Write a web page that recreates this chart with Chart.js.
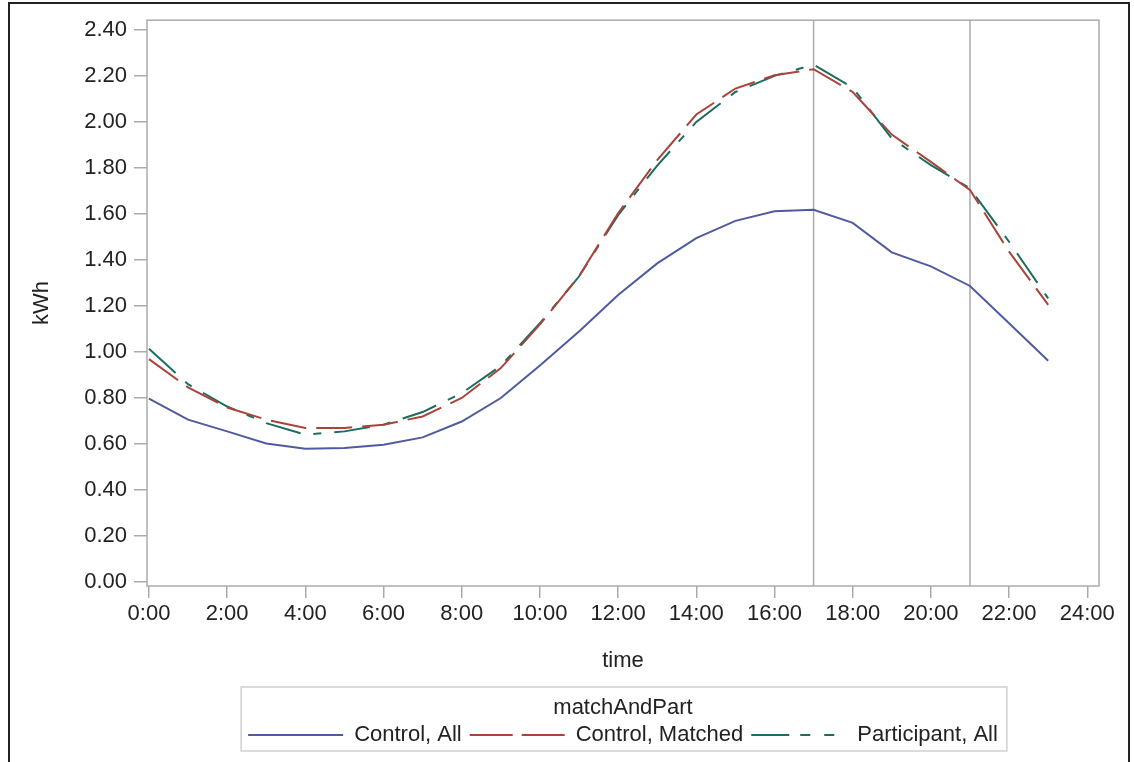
<!DOCTYPE html>
<html>
<head>
<meta charset="utf-8">
<script src="https://cdn.jsdelivr.net/npm/chart.js@4"></script>
<style>
  body { margin: 0; background: #fff; }
  #wrap { position: relative; width: 1134px; height: 762px; }
  #frame { position: absolute; left: 8px; top: 2px; width: 1118px; height: 790px; border: 2px solid #222; border-bottom: none; pointer-events: none; }
</style>
</head>
<body>
<div id="wrap"><canvas id="myChart"></canvas><div id="frame"></div></div>
<script>
var hours = [0, 1, 2, 3, 4, 5, 6, 7, 8, 9, 10, 11, 12, 13, 14, 15, 16, 17, 18, 19, 20, 21, 22, 23];
var controlAll = [0.797, 0.706, 0.655, 0.602, 0.580, 0.583, 0.597, 0.629, 0.698, 0.800, 0.941, 1.089, 1.248, 1.385, 1.495, 1.570, 1.612, 1.618, 1.561, 1.433, 1.372, 1.287, 1.125, 0.962];
var controlMatched = [0.969, 0.846, 0.759, 0.706, 0.670, 0.670, 0.684, 0.720, 0.800, 0.930, 1.120, 1.330, 1.603, 1.834, 2.032, 2.145, 2.203, 2.229, 2.130, 1.945, 1.826, 1.704, 1.436, 1.205];
var participantAll = [1.014, 0.860, 0.763, 0.691, 0.641, 0.655, 0.684, 0.739, 0.821, 0.940, 1.125, 1.328, 1.595, 1.810, 2.000, 2.130, 2.200, 2.249, 2.149, 1.928, 1.812, 1.711, 1.479, 1.233];
var seriesNames = ['Control, All', 'Control, Matched', 'Participant, All'];
var refLines = [17, 21];

function pts(vals) {
  return vals.map(function (v, i) { return { x: hours[i], y: v }; });
}

var fontName = '"Liberation Sans", Arial, sans-serif';
var gray = '#ababab';
// dash patterns used for the legend samples
var legendDashes = [[], [43, 9], [38, 11, 10, 14, 10, 20]];

// reference lines, plot frame and legend box
var framePlugin = {
  id: 'framePlugin',
  beforeDatasetsDraw: function (chart) {
    var ctx = chart.ctx, a = chart.chartArea, xs = chart.scales.x;
    ctx.save();
    ctx.strokeStyle = gray;
    ctx.lineWidth = 1.5;
    refLines.forEach(function (h) {
      var px = xs.getPixelForValue(h);
      ctx.beginPath();
      ctx.moveTo(px, a.top);
      ctx.lineTo(px, a.bottom);
      ctx.stroke();
    });
    ctx.restore();
  },
  afterDraw: function (chart) {
    var ctx = chart.ctx, a = chart.chartArea, lg = chart.legend;
    ctx.save();
    ctx.strokeStyle = gray;
    ctx.lineWidth = 1.5;
    ctx.strokeRect(a.left, a.top, a.right - a.left, a.bottom - a.top);
    var hb = lg.legendHitBoxes;
    if (hb && hb.length) {
      var l = Math.min.apply(null, hb.map(function (b) { return b.left; })) - 7;
      var r = Math.max.apply(null, hb.map(function (b) { return b.left + b.width; })) + 9;
      var b = Math.max.apply(null, hb.map(function (b) { return b.top + b.height; })) + 5;
      ctx.strokeStyle = '#d0d0d0';
      ctx.lineWidth = 1.5;
      ctx.strokeRect(l, lg.top, r - l, b - lg.top);
    }
    ctx.restore();
  }
};

var ctx = document.getElementById('myChart');
var myChart = new Chart(ctx, {
  type: 'line',
  data: {
    datasets: [{
      label: seriesNames[0],
      data: pts(controlAll),
      borderColor: '#4f5ba0',
      borderWidth: 2
    }, {
      label: seriesNames[1],
      data: pts(controlMatched),
      borderColor: '#a8443a',
      borderWidth: 2,
      borderDash: [36, 10]
    }, {
      label: seriesNames[2],
      data: pts(participantAll),
      borderColor: '#1a6e60',
      borderWidth: 2,
      borderDash: [36, 13, 8, 13]
    }]
  },
  options: {
    responsive: true,
    maintainAspectRatio: false,
    animation: false,
    layout: { padding: { left: 0, top: 18, right: 35, bottom: 6 } },
    elements: { point: { radius: 0 }, line: { tension: 0, fill: false } },
    scales: {
      x: {
        type: 'linear',
        min: -0.05,
        max: 24.3,
        afterFit: function (s) { s.height = 101; },
        border: { display: false },
        grid: { drawOnChartArea: false, drawTicks: true, tickLength: 12, color: gray, lineWidth: 1.5 },
        ticks: {
          stepSize: 2,
          includeBounds: false,
          maxRotation: 0,
          autoSkip: false,
          padding: 3,
          color: '#222',
          font: { family: fontName, size: 22 },
          callback: function (v) { return v + ':00'; }
        },
        title: { display: true, text: 'time', color: '#222', font: { family: fontName, size: 22 }, padding: { top: 4, bottom: 13 } }
      },
      y: {
        min: -0.017,
        max: 2.442,
        afterFit: function (s) { s.width = 147; },
        border: { display: false },
        grid: { drawOnChartArea: false, drawTicks: true, tickLength: 13, color: gray, lineWidth: 1.5 },
        ticks: {
          stepSize: 0.2,
          includeBounds: false,
          padding: 7,
          color: '#222',
          font: { family: fontName, size: 22 },
          callback: function (v) { return v.toFixed(2); }
        },
        title: { display: true, text: 'kWh', color: '#222', font: { family: fontName, size: 22 }, padding: { top: 29, bottom: 0 } }
      }
    },
    plugins: {
      tooltip: { enabled: false },
      legend: {
        position: 'bottom',
        fullSize: false,
        title: {
          display: true,
          text: 'matchAndPart',
          color: '#222',
          font: { family: fontName, size: 22, lineHeight: 1 },
          padding: { top: 10, bottom: -3 }
        },
        labels: {
          usePointStyle: true,
          pointStyle: 'line',
          pointStyleWidth: 95,
          padding: 8,
          color: '#222',
          font: { family: fontName, size: 22 },
          generateLabels: function (chart) {
            var items = Chart.defaults.plugins.legend.labels.generateLabels(chart);
            items.forEach(function (it, i) {
              it.lineDash = legendDashes[i];
              it.lineWidth = 2;
              it.strokeStyle = chart.data.datasets[i].borderColor;
            });
            return items;
          }
        }
      }
    }
  },
  plugins: [framePlugin]
});
</script>
</body>
</html>
